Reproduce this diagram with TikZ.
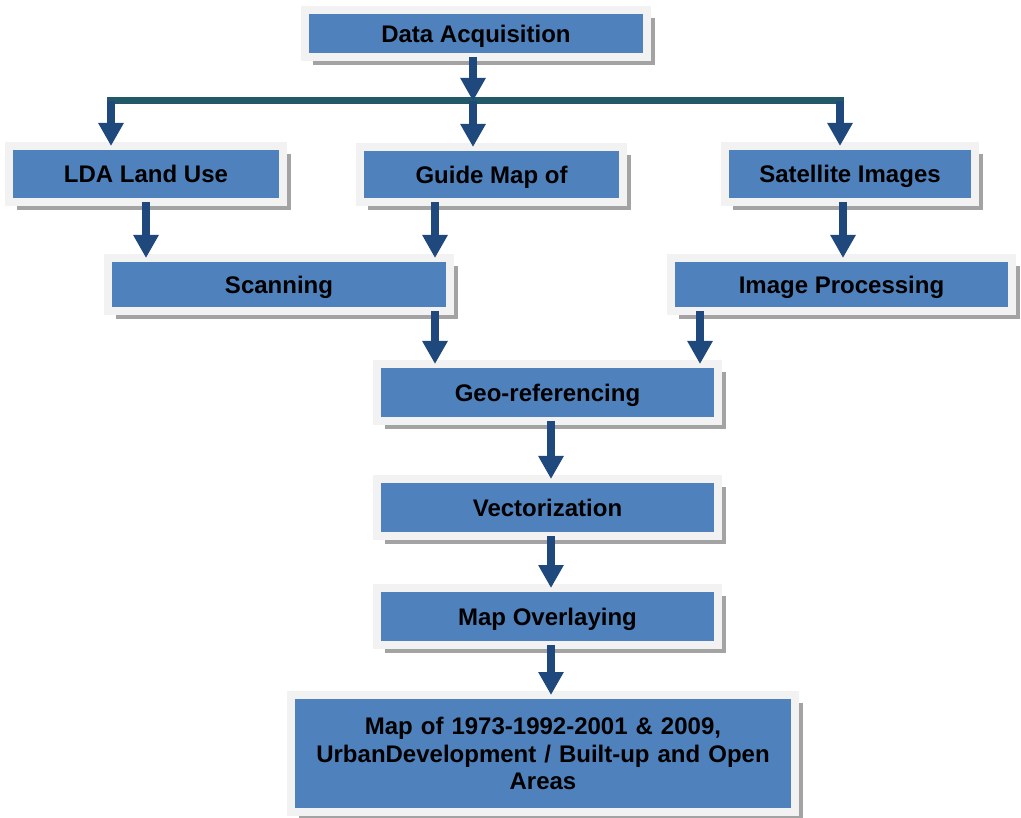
\documentclass[tikz,border=0pt]{standalone}
\usepackage{fontspec}
\setmainfont{Liberation Sans}
\usetikzlibrary{arrows.meta,shadows}
\definecolor{boxblue}{HTML}{4F81BD}
\definecolor{framegray}{HTML}{F2F2F2}
\definecolor{arrowblue}{HTML}{1F497D}
\definecolor{busteal}{HTML}{215968}
\definecolor{shadowgray}{HTML}{A3A3A3}
\begin{document}
\begin{tikzpicture}[x=1pt,y=-1pt,
  stage/.style={rectangle, fill=boxblue, draw=framegray, line width=8pt,
    outer sep=0pt, inner sep=0pt, text depth=0pt, font=\fontsize{24}{27.5}\selectfont\bfseries,
    drop shadow={shadow xshift=8pt, shadow yshift=-8pt, fill=shadowgray, opacity=1}},
  flow/.style={draw=arrowblue, line width=8pt, -{Triangle[width=24pt,length=23pt]}},
  bus/.style={draw=busteal, line width=7pt}]
\useasboundingbox (0,0) rectangle (1021,818);
% boxes
\node[stage, minimum width=342pt, minimum height=47pt] (acq) at (476,33.5) {Data Acquisition};
\node[stage, minimum width=274pt, minimum height=56pt] (lda) at (146,174) {LDA Land Use};
\node[stage, minimum width=263pt, minimum height=55pt] (guide) at (491.5,174.5) {Guide Map of};
\node[stage, minimum width=250pt, minimum height=56pt] (sat) at (850,174) {Satellite Images};
\node[stage, minimum width=342pt, minimum height=53pt] (scan) at (279,284.5) {Scanning};
\node[stage, minimum width=341pt, minimum height=53pt] (imgp) at (841.5,284.5) {Image Processing};
\node[stage, minimum width=341pt, minimum height=57pt] (geo) at (547.5,392.5) {Geo-referencing};
\node[stage, minimum width=341pt, minimum height=57pt] (vect) at (547.5,507.5) {Vectorization};
\node[stage, minimum width=341pt, minimum height=57pt] (ovl) at (547.5,616.5) {Map Overlaying};
\node[stage, text depth=, minimum width=504pt, minimum height=117pt, text width=490pt, align=center] (final) at (543,753.5)
  {Map of 1973-1992-2001 \& 2009,\\UrbanDevelopment / Built-up and Open\\Areas};
% bus and arrow columns
\coordinate (busL) at (111,101);
\coordinate (busM) at (473,101);
\coordinate (busR) at (840,101);
\coordinate (colA) at (435,0);
\coordinate (colB) at (700,0);
\coordinate (colC) at (843,0);
\coordinate (colD) at (551,0);
\draw[bus, shorten <=-4pt, shorten >=-4pt] (busL) -- (busR);
\draw[flow] (busM |- acq.south) -- (busM);
\draw[flow] (busM) -- (busM |- guide.north);
\draw[flow] (busL) -- (busL |- lda.north);
\draw[flow] (busR) -- (busR |- sat.north);
\draw[flow] (lda.south) -- (lda.south |- scan.north);
\draw[flow] (colA |- guide.south) -- (colA |- scan.north);
\draw[flow] (colC |- sat.south) -- (colC |- imgp.north);
\draw[flow] (colA |- scan.south) -- (colA |- geo.north);
\draw[flow] (colB |- imgp.south) -- (colB |- geo.north);
\draw[flow] (colD |- geo.south) -- (colD |- vect.north);
\draw[flow] (colD |- vect.south) -- (colD |- ovl.north);
\draw[flow] (colD |- ovl.south) -- (colD |- final.north);
\end{tikzpicture}
\end{document}
